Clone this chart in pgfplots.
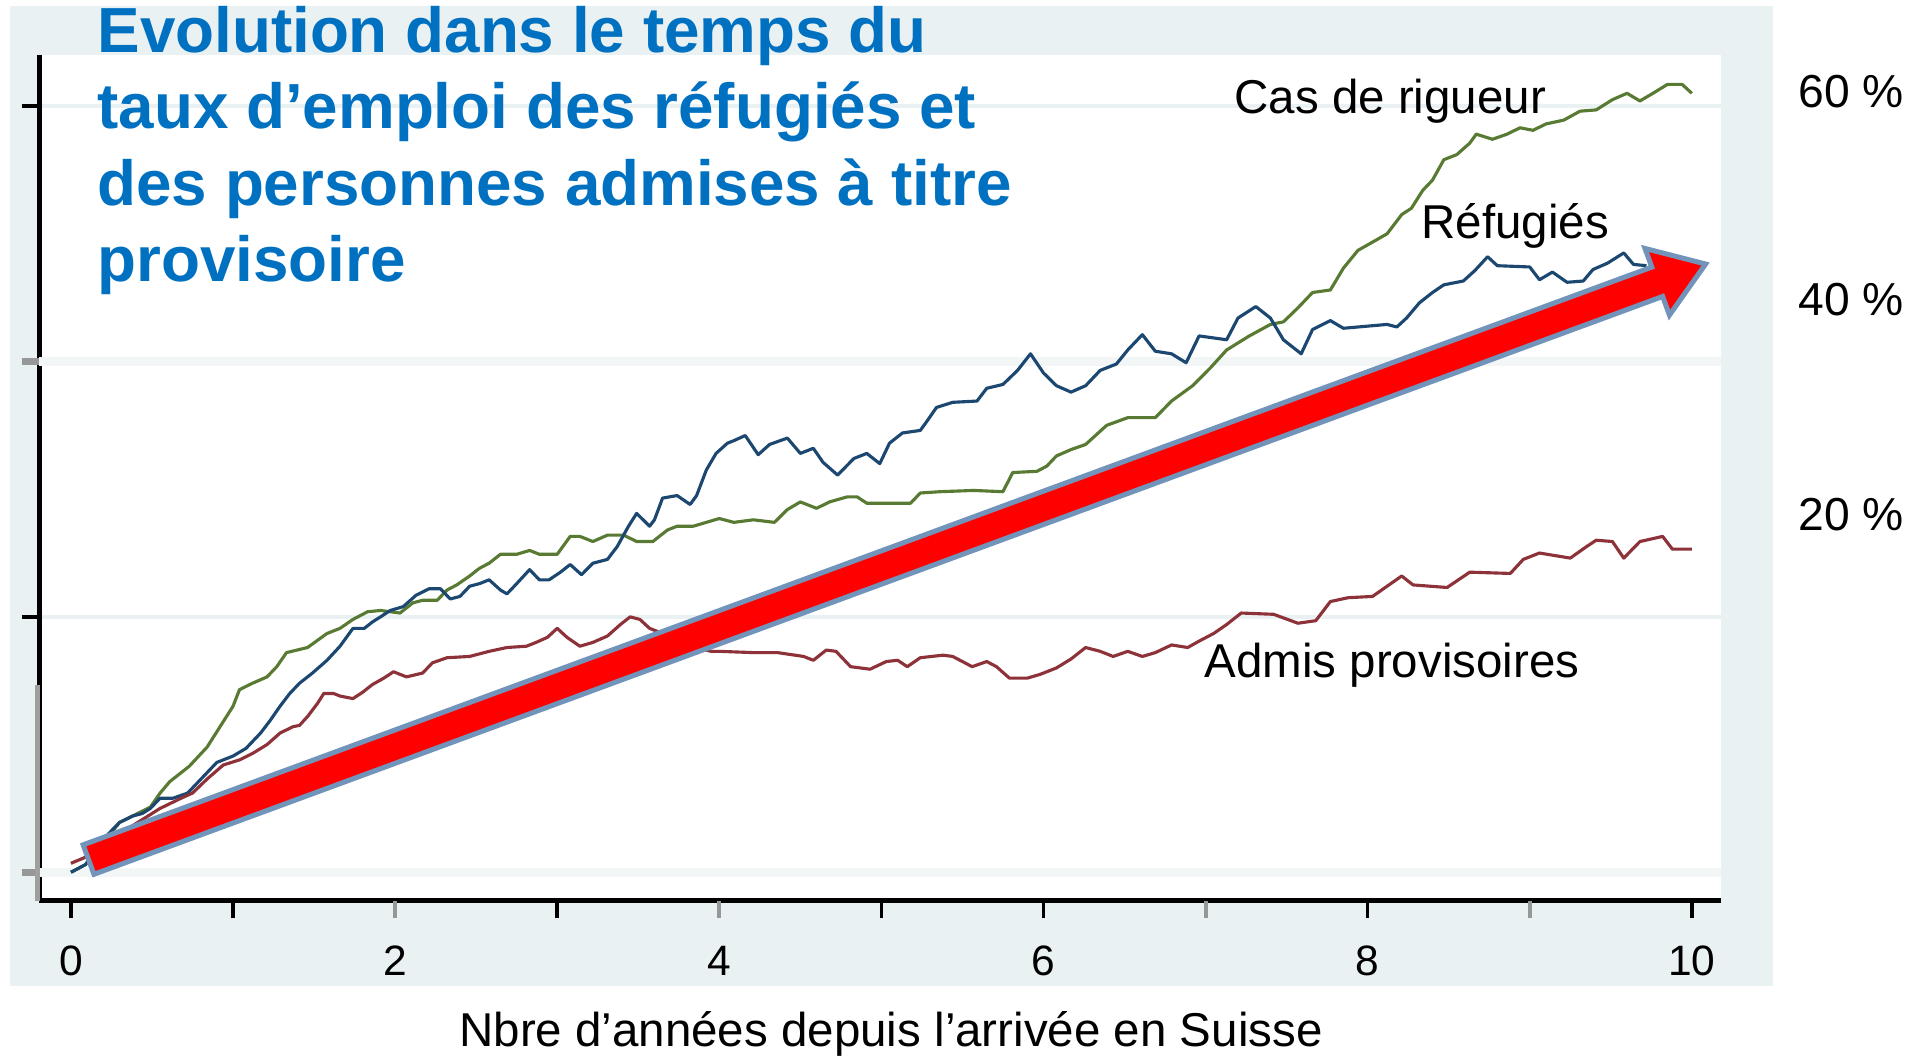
\documentclass[border=0pt]{standalone}
\usepackage{fontspec}
\setmainfont{Liberation Sans}
\usepackage{pgfplots}
\pgfplotsset{compat=1.18}

\definecolor{panel}{RGB}{233,241,243}
\definecolor{gridA}{RGB}{234,241,243}
\definecolor{gridB}{RGB}{242,246,247}
\definecolor{ttl}{RGB}{0,112,192}
\definecolor{cBlue}{RGB}{27,71,112}
\definecolor{cGreen}{RGB}{88,122,50}
\definecolor{cRed}{RGB}{142,50,58}
\definecolor{arrowEdge}{RGB}{114,148,186}
\definecolor{tickGrey}{RGB}{150,152,152}

\begin{document}
\begin{tikzpicture}[x=1pt,y=1pt]
\path[use as bounding box] (-15.6,-64) rectangle (752.8,360.4);
\fill[panel] (-11.6,-34) rectangle (693.6,358);
\begin{axis}[
  at={(0pt,0pt)}, anchor=south west,
  scale only axis, width=672.8pt, height=338.4pt,
  xmin=-0.197, xmax=10.18, ymin=-2.25, ymax=64,
  axis x line=bottom, axis y line=left,
  axis line style={-, line width=2pt, black},
  axis background/.style={fill=white},
  tick align=outside, major tick length=7pt,
  every tick/.style={line width=1.4pt, black},
  xtick={0,1,3,5,6,8,10},
  xticklabels={0,,,,6,8,10},
  extra x ticks={2,4,7,9},
  extra x tick labels={2,4,,},
  extra x tick style={grid=none, every tick/.style={line width=1.6pt, tickGrey}},
  xticklabel style={font=\fontsize{17}{17}\selectfont, anchor=base, yshift=-23pt},
  ytick={20,60},
  yticklabels={,},
  extra y ticks={0,40},
  extra y tick labels={,},
  extra y tick style={every tick/.style={line width=3pt, tickGrey}, major grid style={gridB, line width=3.6pt}},
  ymajorgrids=true,
  major grid style={gridA, line width=1.8pt},
  clip=false,
]
% Cas de rigueur
\addplot[cGreen, line width=1.25pt, line join=round] coordinates {
(0,0.0)(0.09,0.6)(0.30,3.9)(0.49,5.1)(0.55,6.2)(0.61,7.1)(0.73,8.3)(0.84,9.8)(0.92,11.4)(1.0,13.0)(1.04,14.3)(1.12,14.8)(1.21,15.3)(1.27,16.1)(1.33,17.2)(1.46,17.6)(1.58,18.7)(1.66,19.1)(1.74,19.8)(1.83,20.4)(1.91,20.5)(2.03,20.3)(2.11,21.1)(2.17,21.3)(2.26,21.3)(2.32,22.1)(2.38,22.5)(2.46,23.2)(2.52,23.8)(2.58,24.2)(2.65,24.9)(2.75,24.9)(2.83,25.2)(2.89,24.9)(3.0,24.9)(3.08,26.3)(3.14,26.3)(3.22,25.9)(3.31,26.4)(3.41,26.4)(3.49,25.9)(3.59,25.9)(3.68,26.8)(3.74,27.1)(3.84,27.1)(3.92,27.4)(4.0,27.7)(4.09,27.4)(4.21,27.6)(4.34,27.4)(4.42,28.4)(4.50,29.0)(4.60,28.5)(4.68,29.0)(4.79,29.4)(4.85,29.4)(4.91,28.9)(5.07,28.9)(5.18,28.9)(5.24,29.7)(5.36,29.8)(5.57,29.9)(5.75,29.8)(5.81,31.3)(5.96,31.4)(6.02,31.8)(6.08,32.6)(6.17,33.1)(6.26,33.5)(6.39,35.0)(6.52,35.6)(6.69,35.6)(6.79,36.9)(6.92,38.1)(7.03,39.5)(7.13,40.9)(7.27,42.0)(7.40,42.9)(7.48,43.1)(7.57,44.2)(7.66,45.4)(7.77,45.6)(7.85,47.3)(7.94,48.7)(8.01,49.2)(8.12,50.0)(8.21,51.5)(8.27,52.0)(8.34,53.4)(8.40,54.2)(8.47,55.8)(8.55,56.2)(8.63,57.1)(8.67,57.8)(8.77,57.4)(8.86,57.8)(8.94,58.3)(9.02,58.1)(9.10,58.6)(9.21,58.9)(9.31,59.6)(9.41,59.7)(9.51,60.5)(9.60,61.0)(9.68,60.4)(9.76,61.0)(9.85,61.7)(9.94,61.7)(10.0,61.0)
};
% Refugies
\addplot[cBlue, line width=1.25pt, line join=round] coordinates {
(0,0.0)(0.09,0.6)(0.20,2.6)(0.30,3.9)(0.38,4.4)(0.44,4.6)(0.49,5.0)(0.55,5.8)(0.63,5.8)(0.72,6.2)(0.78,7.0)(0.84,7.8)(0.90,8.6)(1.0,9.1)(1.08,9.7)(1.17,10.9)(1.23,11.9)(1.29,13.0)(1.35,14.0)(1.41,14.8)(1.49,15.6)(1.58,16.6)(1.66,17.7)(1.70,18.4)(1.74,19.1)(1.81,19.1)(1.86,19.6)(1.91,20.0)(1.97,20.5)(2.05,20.8)(2.13,21.7)(2.21,22.2)(2.28,22.2)(2.34,21.4)(2.40,21.6)(2.46,22.4)(2.52,22.6)(2.58,22.9)(2.65,22.1)(2.69,21.8)(2.75,22.6)(2.83,23.7)(2.89,22.9)(2.95,22.9)(3.02,23.5)(3.08,24.1)(3.15,23.3)(3.22,24.2)(3.31,24.5)(3.37,25.5)(3.44,27.1)(3.49,28.1)(3.57,27.1)(3.60,27.6)(3.65,29.3)(3.74,29.5)(3.82,28.8)(3.86,29.5)(3.92,31.5)(3.98,32.8)(4.05,33.6)(4.09,33.8)(4.16,34.2)(4.24,32.7)(4.31,33.5)(4.42,34.0)(4.50,32.8)(4.58,33.2)(4.64,32.1)(4.73,31.1)(4.83,32.4)(4.91,32.8)(4.99,32.0)(5.05,33.6)(5.13,34.4)(5.24,34.6)(5.28,35.3)(5.34,36.4)(5.44,36.8)(5.59,36.9)(5.65,37.9)(5.75,38.2)(5.84,39.3)(5.92,40.6)(6.0,39.1)(6.08,38.1)(6.17,37.6)(6.26,38.1)(6.35,39.3)(6.45,39.8)(6.52,40.9)(6.61,42.1)(6.69,40.8)(6.79,40.6)(6.88,39.9)(6.96,42.0)(7.13,41.7)(7.20,43.4)(7.31,44.3)(7.40,43.4)(7.48,41.7)(7.59,40.6)(7.66,42.5)(7.77,43.2)(7.85,42.6)(8.12,42.9)(8.18,42.7)(8.24,43.4)(8.32,44.6)(8.40,45.4)(8.47,46.0)(8.59,46.3)(8.66,47.1)(8.74,48.2)(8.80,47.5)(9.0,47.4)(9.06,46.4)(9.14,47.0)(9.23,46.2)(9.33,46.3)(9.39,47.2)(9.48,47.7)(9.58,48.5)(9.64,47.6)(9.72,47.5)
};
% Admis provisoires
\addplot[cRed, line width=1.25pt, line join=round] coordinates {
(0,0.7)(0.15,1.5)(0.35,3.4)(0.55,5.0)(0.68,5.8)(0.75,6.2)(0.84,7.3)(0.94,8.4)(1.04,8.8)(1.12,9.3)(1.21,10.0)(1.29,10.9)(1.37,11.4)(1.41,11.5)(1.46,12.2)(1.52,13.2)(1.56,14.0)(1.62,14.0)(1.66,13.8)(1.74,13.6)(1.80,14.1)(1.86,14.7)(1.93,15.2)(1.99,15.7)(2.07,15.3)(2.17,15.6)(2.23,16.4)(2.32,16.8)(2.46,16.9)(2.58,17.3)(2.69,17.6)(2.81,17.7)(2.87,18.0)(2.94,18.4)(3.0,19.1)(3.06,18.4)(3.14,17.7)(3.22,18.0)(3.31,18.5)(3.39,19.4)(3.45,20.0)(3.51,19.8)(3.57,19.1)(3.65,18.7)(3.75,18.0)(3.85,17.6)(3.95,17.3)(4.0,17.3)(4.21,17.2)(4.36,17.2)(4.52,16.9)(4.58,16.6)(4.66,17.4)(4.72,17.3)(4.81,16.1)(4.93,15.9)(5.03,16.5)(5.10,16.6)(5.16,16.1)(5.24,16.8)(5.38,17.0)(5.44,16.9)(5.56,16.1)(5.65,16.5)(5.71,16.1)(5.79,15.2)(5.90,15.2)(5.98,15.5)(6.08,16.0)(6.17,16.7)(6.26,17.6)(6.35,17.3)(6.43,16.9)(6.52,17.3)(6.61,16.9)(6.69,17.2)(6.79,17.8)(6.89,17.6)(6.96,18.1)(7.05,18.7)(7.13,19.4)(7.22,20.3)(7.42,20.2)(7.57,19.5)(7.68,19.7)(7.77,21.2)(7.88,21.5)(8.03,21.6)(8.12,22.4)(8.21,23.2)(8.28,22.5)(8.49,22.3)(8.63,23.5)(8.88,23.4)(8.96,24.5)(9.06,25.0)(9.25,24.6)(9.35,25.5)(9.41,26.0)(9.51,25.9)(9.58,24.6)(9.68,25.9)(9.82,26.3)(9.88,25.3)(10.0,25.3)
};
% grey lower part of the y axis
\draw[gray!75, line width=2.2pt] (axis cs:-0.205,14.7) -- (axis cs:-0.205,-2.25);
% big red arrow
\draw[fill={rgb,255:red,255;green,0;blue,0}, draw=arrowEdge, line width=2pt, line join=miter]
  (axis cs:0.0753,2.146) -- (axis cs:9.753,47.39) -- (axis cs:9.711,48.85) -- (axis cs:10.085,47.63)
  -- (axis cs:9.862,43.63) -- (axis cs:9.820,45.09) -- (axis cs:0.142,-0.157) -- cycle;
\end{axis}
% title
\begin{scope}[every node/.style={anchor=base west, inner sep=0, text=ttl, font=\fontsize{25.5}{30}\selectfont\bfseries}]
\node at (23.2,339.3) {Evolution dans le temps du};
\node at (23.2,308.8) {taux d’emploi des réfugiés et};
\node at (23.2,278.2) {des personnes admises à titre};
\node at (23.2,247.6) {provisoire};
\end{scope}
% series labels
\begin{scope}[every node/.style={anchor=base west, inner sep=0, font=\fontsize{19}{22}\selectfont}]
\node at (478,314.8) {Cas de rigueur};
\node at (552.8,265) {Réfugiés};
\node at (466,89.2) {Admis provisoires};
\end{scope}
\node[anchor=base, inner sep=0, font=\fontsize{19}{22}\selectfont] at (340.8,-58.4) {Nbre d’années depuis l’arrivée en Suisse};
% right-hand percentage labels
\begin{scope}[every node/.style={anchor=west, inner sep=0, font=\fontsize{18.5}{18.5}\selectfont}]
\node at (703.6,323.6) {60 \%};
\node at (703.6,240.4) {40 \%};
\node at (703.6,154.4) {20 \%};
\end{scope}
\end{tikzpicture}
\end{document}
